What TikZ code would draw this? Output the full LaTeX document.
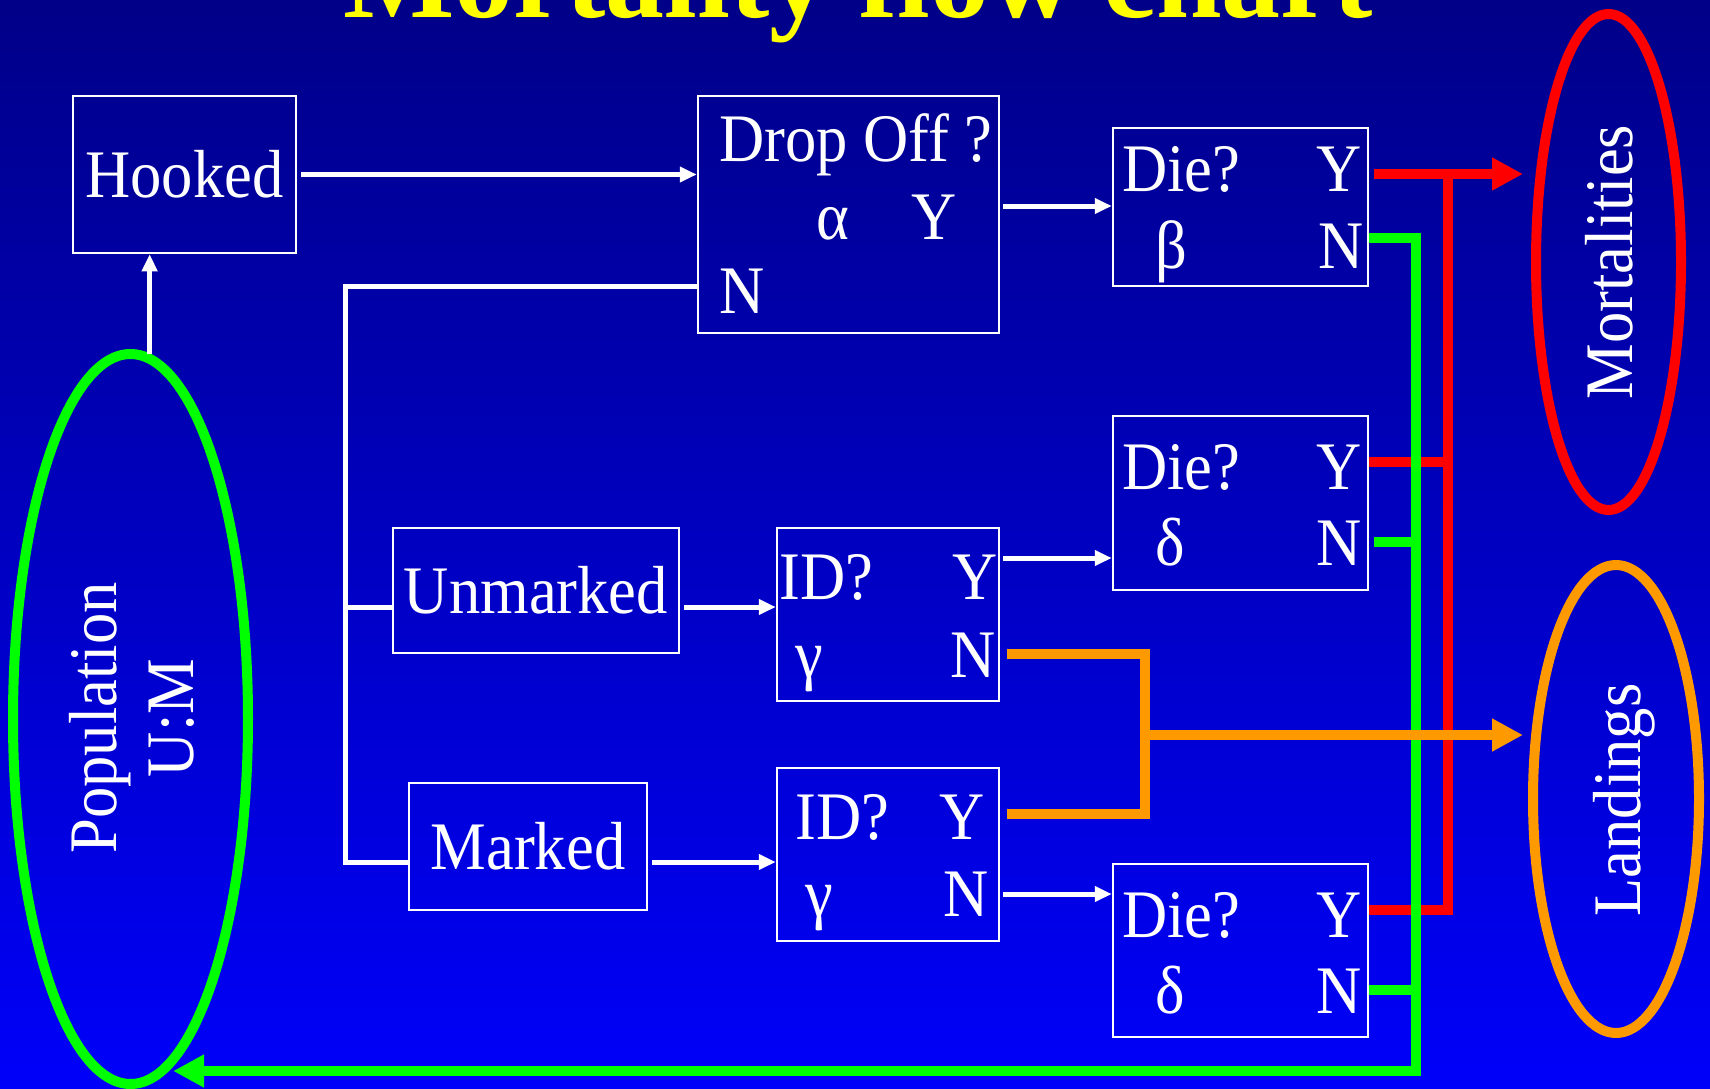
\documentclass[tikz,border=0pt]{standalone}
\usepackage{fontspec}
\setmainfont{Liberation Serif}
\newfontfamily\boxfont[FakeStretch=0.92]{Liberation Serif}
\usetikzlibrary{arrows.meta,shapes.geometric}
\definecolor{bgtop}{RGB}{0,0,136}
\definecolor{bgbot}{RGB}{0,0,250}
\definecolor{ttl}{RGB}{255,255,0}
\definecolor{gline}{RGB}{0,255,0}
\definecolor{rline}{RGB}{255,0,0}
\definecolor{oline}{RGB}{255,153,0}
\begin{document}
\begin{tikzpicture}[x=1pt,y=-1pt,
  boxn/.style={draw=white, line width=2.5pt, inner sep=0pt, text=white,
    font=\boxfont\fontsize{68}{80}\selectfont},
  lbl/.style={text=white, inner sep=0pt, font=\boxfont\fontsize{68}{80}\selectfont},
  warrow/.style={draw=white, line width=5pt, -{Triangle[length=17pt,width=15pt]}},
  wline/.style={draw=white, line width=5pt},
  redl/.style={draw=rline, line width=10pt},
  greenl/.style={draw=gline, line width=10pt},
  orangel/.style={draw=oline, line width=10pt},
  bigtip/.style={-{Triangle[length=31pt,width=31pt]}},
  ring/.style={ellipse, line width=10pt, inner sep=0pt}]
\useasboundingbox (0,0) rectangle (1710,1089);
\shade[top color=bgtop, bottom color=bgbot] (0,0) rectangle (1710,1089);

% title (partly cut off at the top)
\node[anchor=base, text=ttl, inner sep=0pt,
  font=\bfseries\fontsize{118}{130}\selectfont] (title) at (858,17.5) {Mortality flow chart};

% boxes
\node[boxn, minimum width=223pt, minimum height=157pt] (hooked) at (184.5,174.5) {Hooked};
\node[boxn, minimum width=301pt, minimum height=237pt] (drop) at (848.5,214.5) {};
\node[boxn, minimum width=255pt, minimum height=158pt] (die1) at (1240.5,207) {};
\node[boxn, minimum width=255pt, minimum height=174pt] (die2) at (1240.5,503) {};
\node[boxn, minimum width=255pt, minimum height=173pt] (die3) at (1240.5,950.5) {};
\node[boxn, minimum width=286pt, minimum height=125pt] (unm) at (536,590.5) {Unmarked};
\node[boxn, minimum width=238pt, minimum height=127pt] (mark) at (528,846.5) {Marked};
\node[boxn, minimum width=222pt, minimum height=173pt] (id1) at (888,614.5) {};
\node[boxn, minimum width=222pt, minimum height=173pt] (id2) at (888,854.5) {};

% box texts
\node[lbl, anchor=base west] (dropq) at (719,161) {Drop Off ?};
\node[lbl, anchor=base west] (dropa) at (816,239) {α};
\node[lbl, anchor=base west] (dropy) at (911,239) {Y};
\node[lbl, anchor=base west] (dropn) at (719,313) {N};

\node[lbl, anchor=base west] (d1q) at (1122,191) {Die?};
\node[lbl, anchor=base east] (d1y) at (1362,191) {Y};
\node[lbl, anchor=base west] (d1b) at (1155,268) {β};
\node[lbl, anchor=base east] (d1n) at (1364,268) {N};

\node[lbl, anchor=base west] (d2q) at (1122,489) {Die?};
\node[lbl, anchor=base east] (d2y) at (1362,489) {Y};
\node[lbl, anchor=base west] (d2d) at (1155,565) {δ};
\node[lbl, anchor=base east] (d2n) at (1362,565) {N};

\node[lbl, anchor=base west] (d3q) at (1122,937) {Die?};
\node[lbl, anchor=base east] (d3y) at (1362,937) {Y};
\node[lbl, anchor=base west] (d3d) at (1155,1013) {δ};
\node[lbl, anchor=base east] (d3n) at (1362,1013) {N};

\node[lbl, anchor=base west] (i1q) at (779,599) {ID?};
\node[lbl, anchor=base east] (i1y) at (998,599) {Y};
\node[lbl, anchor=base west] (i1g) at (795,677) {γ};
\node[lbl, anchor=base east] (i1n) at (996,677) {N};

\node[lbl, anchor=base west] (i2q) at (795,839) {ID?};
\node[lbl, anchor=base west] (i2y) at (939,839) {Y};
\node[lbl, anchor=base west] (i2g) at (805,916) {γ};
\node[lbl, anchor=base west] (i2n) at (943,916) {N};

% ellipses
\node[ring, draw=gline, minimum width=235pt, minimum height=730pt] (pop) at (130.5,719) {};
\node[ring, draw=rline, minimum width=145pt, minimum height=496pt] (mort) at (1608.5,262) {};
\node[ring, draw=oline, minimum width=166pt, minimum height=468pt] (land) at (1616,799) {};
\node[lbl, rotate=90, anchor=base] (popt1) at (116,718) {Population};
\node[lbl, rotate=90, anchor=base] (popt2) at (193,718) {U:M};
\node[lbl, rotate=90, anchor=base] (mortt) at (1632,262) {Mortalities};
\node[lbl, rotate=90, anchor=base] (landt) at (1640,800) {Landings};

\coordinate (mtip) at (1523,174);
\coordinate (ltip) at (1523,735);
\coordinate (rbus) at (1448,174);
\coordinate (gbus) at (1416,238);
\coordinate (obus) at (1145,654);

% white connectors
\draw[warrow, shorten <=4pt] (hooked.east) -- (drop.west |- hooked.east);
\draw[warrow, shorten <=3pt] (drop.east |- 0,206) -- (die1.west |- 0,206);
\draw[wline] (drop.west |- 0,286) -- (345,286) -- (345,862) -- (mark.west |- 0,862);
\draw[wline] (345,607) -- (unm.west |- 0,607);
\draw[warrow] (pop.87.3) -- (pop.87.3 |- hooked.south);
\draw[warrow, shorten <=4pt] (unm.east |- 0,607) -- (id1.west |- 0,607);
\draw[warrow, shorten <=4pt] (mark.east |- 0,862) -- (id2.west |- 0,862);
\draw[warrow, shorten <=3pt] (id1.east |- 0,558) -- (die2.west |- 0,558);
\draw[warrow, shorten <=3pt] (id2.east |- 0,894) -- (die3.west |- 0,894);

% red: mortalities
\draw[redl, bigtip, shorten <=5pt] (die1.east |- mtip) -- (mtip);
\draw[redl] (rbus) -- (rbus |- 0,910) -- (die3.east |- 0,910);
\draw[redl] (die2.east |- 0,462) -- (rbus |- 0,462);

% green: back to population
\draw[greenl, bigtip] (die1.east |- gbus) -- (gbus) -- (gbus |- 0,1071) -- (pop.-83.9 |- 0,1071);
\draw[greenl, shorten <=5pt] (die2.east |- 0,542) -- (gbus |- 0,542);
\draw[greenl] (die3.east |- 0,990) -- (gbus |- 0,990);

% orange: landings
\draw[orangel, shorten <=7pt] (id1.east |- obus) -- (obus) -- (obus |- 0,814) -- ([xshift=7pt]id2.east |- 0,814);
\draw[orangel, bigtip] (obus |- ltip) -- (ltip);
\end{tikzpicture}
\end{document}
